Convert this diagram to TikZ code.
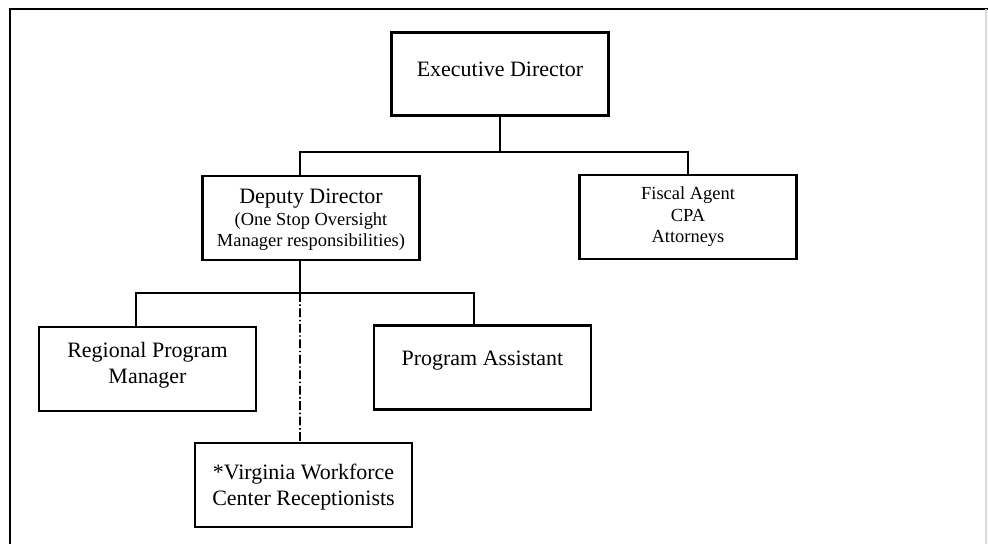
\documentclass[tikz,border=0pt]{standalone}
\usepackage{fontspec}
\setmainfont{Liberation Serif}
\usepackage{tikz}
\usetikzlibrary{
    positioning,
    calc
}
\newcommand{\bigtxt}{\fontsize{12.5}{14.5}\selectfont}
\newcommand{\smalltxt}{\fontsize{10.5}{12.2}\selectfont}

\begin{document}
\begin{tikzpicture}[
    x=0.02cm, y=-0.02cm,
    post/.style={
        rectangle,
        draw,
        line width=1.3pt,
        minimum width=4.34cm,
        minimum height=1.68cm,
        align=center,
        inner sep=2pt,
        font=\bigtxt
    },
    link/.style={line width=1.1pt},
    dotlink/.style={line width=0.9pt, dash pattern=on 5pt off 1.5pt on 0.8pt off 1.5pt},
    frame/.style={line width=1.4pt}
]
\useasboundingbox (0,0) rectangle (988,544);

% Marco
\draw[frame] (10,544) -- (10,9) -- (988,9);
\draw[black!15, line width=0.8pt] (986,9) -- (986,544);

% Cajas
\node[post, line width=1.7pt, text depth=5.7pt] (exec) at (500,74) {Executive Director};
\node[post, font=\smalltxt, text depth=0pt] (deputy) at (311,218) {{\bigtxt Deputy Director}\\(One Stop Oversight\\Manager responsibilities)};
\node[post, font=\smalltxt] (fiscal) at (688,217) {Fiscal Agent\\CPA\\Attorneys};

\node[post, text depth=7pt] (regional) at (147.5,369) {Regional Program\\Manager};
\node[post, text depth=10.5pt] (assistant) at (482.5,367.5) {Program Assistant};
\node[post, text depth=0pt] (recep) at (303.5,485) {*Virginia Workforce\\Center Receptionists};

% Lineas
\coordinate (topbus) at (500,152);
\coordinate (lowbus) at (300,293);
\draw[link] (exec.south) -- (topbus);
\draw[link] ([xshift=-0.22cm]deputy.north) |- (topbus) -| (fiscal.north);
\draw[link] ([xshift=-0.22cm]deputy.south) -- (lowbus);
\draw[link] ([xshift=-0.23cm]regional.north) |- (lowbus) -| ([xshift=-0.17cm]assistant.north);
\draw[dotlink] (lowbus) -- ([xshift=-0.07cm]recep.north);

\end{tikzpicture}
\end{document}
